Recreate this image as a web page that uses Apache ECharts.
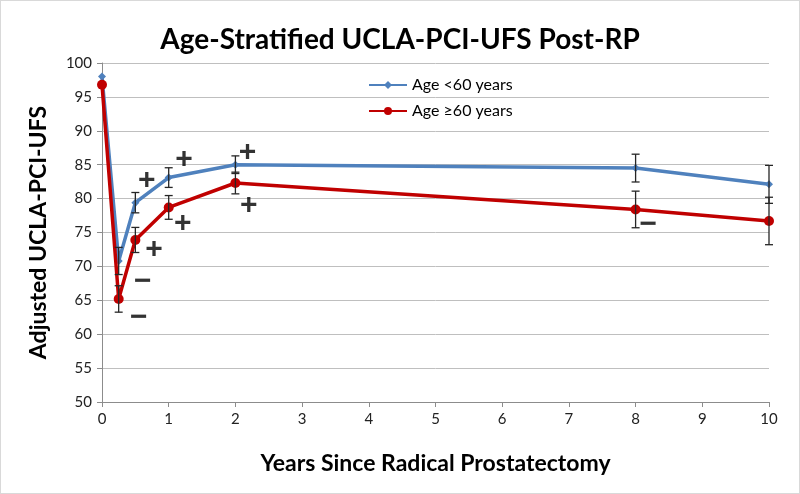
<!DOCTYPE html>
<html><head><meta charset="utf-8">
<script src="https://cdn.jsdelivr.net/npm/echarts@6/dist/echarts.min.js"></script>
<style>html,body{margin:0;padding:0;background:#fff}#c{width:798px;height:492px;border:1px solid #d9d9d9}</style>
</head><body><div id="c"></div>
<script>
const years = [0, 0.25, 0.5, 1, 2, 8, 10];
const youngMean = [98.0, 70.8, 79.4, 83.1, 85.0, 84.5, 82.1];
const youngErr  = [null, 2.0, 1.5, 1.45, 1.3, 2.05, 2.8];
const oldMean   = [96.8, 65.2, 73.9, 78.7, 82.3, 78.4, 76.7];
const oldErr    = [null, 1.95, 1.85, 1.75, 1.6, 2.7, 3.5];
const annX = [0.67, 1.23, 2.18, 2.2, 1.21, 0.78, 0.61, 0.55, 8.19];
const annY = [82.6, 85.7, 86.8, 78.9, 76.3, 72.4, 67.8, 62.4, 76.2];
const annText = ['+', '+', '+', '+', '+', '+', '\u2212', '\u2212', '\u2212'];
const xTicks = [0,1,2,3,4,5,6,7,8,9,10];
const yTicks = [50,55,60,65,70,75,80,85,90,95,100];

const font = 'Lato, "Open Sans", sans-serif';
function pairs(m){ return years.map((x,i)=>[x,m[i]]); }
function errData(m,e){ const out=[]; years.forEach((x,i)=>{ if(e[i]!=null) out.push([x,m[i]-e[i],m[i]+e[i]]); }); return out; }
function errSeries(m,e){
  return {type:'custom', z:5, silent:true, data:errData(m,e),
    renderItem:function(params,api){
      const x=api.value(0), lo=api.coord([x,api.value(1)]), hi=api.coord([x,api.value(2)]);
      const w=4; const st={stroke:'#262626',lineWidth:1.3};
      return {type:'group',children:[
        {type:'line',shape:{x1:lo[0],y1:lo[1],x2:hi[0],y2:hi[1]},style:st},
        {type:'line',shape:{x1:lo[0]-w,y1:lo[1],x2:lo[0]+w,y2:lo[1]},style:st},
        {type:'line',shape:{x1:hi[0]-w,y1:hi[1],x2:hi[0]+w,y2:hi[1]},style:st}]};
    }};
}
const chart = echarts.init(document.getElementById('c'));
chart.setOption({
  animation:false,
  textStyle:{fontFamily:font},
  title:{text:'Age-Stratified UCLA-PCI-UFS Post-RP',left:'center',top:20,
    textStyle:{fontSize:28,fontWeight:'bold',color:'#000',fontFamily:font}},
  legend:{orient:'vertical',left:362,top:71,itemGap:10,itemWidth:38,itemHeight:10,
    textStyle:{fontSize:16,color:'#000',fontFamily:font},
    data:['Age <60 years','Age \u226560 years']},
  grid:{left:101,right:30,top:62,bottom:91},
  xAxis:{type:'value',min:0,max:10,interval:1,
    name:'Years Since Radical Prostatectomy',nameLocation:'middle',nameGap:50,
    nameTextStyle:{fontSize:23,fontWeight:'bold',color:'#000',fontFamily:font},
    axisLine:{lineStyle:{color:'#8c8c8c'}},axisTick:{show:true,length:5,lineStyle:{color:'#8c8c8c'}},
    axisLabel:{fontSize:15,color:'#222',margin:10,formatter:v=>xTicks.includes(v)?String(v):''},
    splitLine:{show:false}},
  yAxis:{type:'value',min:50,max:100,interval:5,
    name:'Adjusted UCLA-PCI-UFS',nameLocation:'middle',nameGap:52,
    nameTextStyle:{fontSize:23,fontWeight:'bold',color:'#000',fontFamily:font},
    axisLine:{show:true,lineStyle:{color:'#8c8c8c'}},axisTick:{show:true,length:5,lineStyle:{color:'#8c8c8c'}},
    axisLabel:{fontSize:15,color:'#222',margin:10,formatter:v=>yTicks.includes(v)?String(v):''},
    splitLine:{lineStyle:{color:'#bfbfbf',width:1}}},
  series:[
    {name:'Age <60 years',type:'line',data:pairs(youngMean),symbol:'diamond',symbolSize:8,
      lineStyle:{color:'#4f81bd',width:3.5},itemStyle:{color:'#4f81bd'},z:3},
    {name:'Age \u226560 years',type:'line',data:pairs(oldMean),symbol:'circle',symbolSize:10,
      lineStyle:{color:'#c00000',width:3.5},itemStyle:{color:'#c00000'},z:4},
    errSeries(youngMean,youngErr),
    errSeries(oldMean,oldErr),
    {type:'scatter',symbolSize:0,z:6,silent:true,
      data:annX.map((x,i)=>({value:[x,annY[i]],name:annText[i]})),
      label:{show:true,position:'inside',formatter:p=>p.name,fontSize:30,fontWeight:'bold',color:'#000',textBorderWidth:0,fontFamily:'"Liberation Sans", sans-serif'}}
  ]
});
</script></body></html>
